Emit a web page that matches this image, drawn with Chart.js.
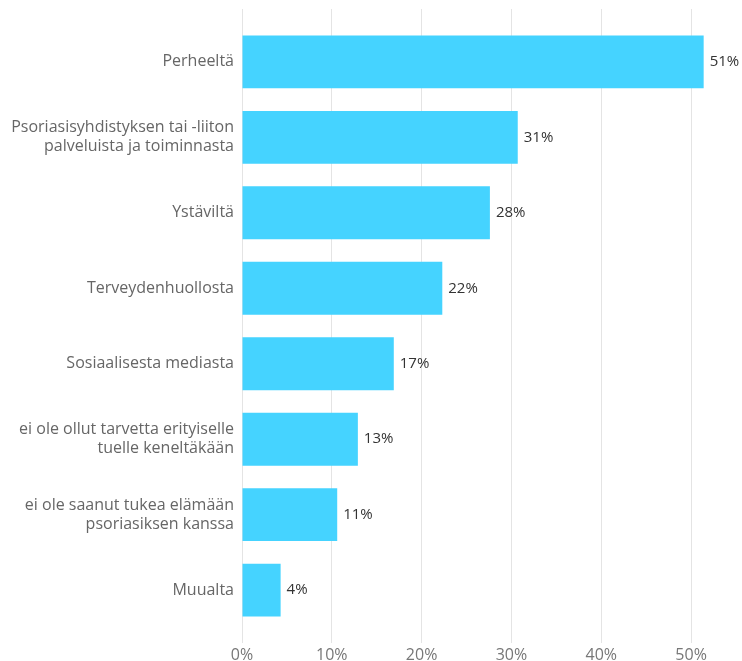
<!DOCTYPE html>
<html>
<head>
<meta charset="utf-8">
<script src="https://cdn.jsdelivr.net/npm/chart.js@4/dist/chart.umd.min.js"></script>
<style>
	html, body { margin: 0; padding: 0; background: #fff; }
	#wrap { width: 742px; height: 661px; position: relative; }
</style>
</head>
<body>
<div id="wrap"><canvas id="supportChart"></canvas></div>
<script>
// Mistä on saanut tukea (osuus vastaajista, %)
var categories = [
	'Perheeltä',
	['Psoriasisyhdistyksen tai -liiton', 'palveluista ja toiminnasta'],
	'Ystäviltä',
	'Terveydenhuollosta',
	'Sosiaalisesta mediasta',
	['ei ole ollut tarvetta erityiselle', 'tuelle keneltäkään'],
	['ei ole saanut tukea elämään', 'psoriasiksen kanssa'],
	'Muualta'
];
var shares = [51.4, 30.7, 27.6, 22.3, 16.9, 12.9, 10.6, 4.3];
var xTicks = [0, 10, 20, 30, 40, 50];

var FONT = '"Open Sans", "DejaVu Sans", sans-serif';

// percent label to the right of each bar
var valueLabels = {
	id: 'valueLabels',
	afterDatasetsDraw: function (chart) {
		var ctx = chart.ctx;
		var meta = chart.getDatasetMeta(0);
		ctx.save();
		ctx.font = '15px ' + FONT;
		ctx.fillStyle = '#333';
		ctx.textAlign = 'left';
		ctx.textBaseline = 'middle';
		meta.data.forEach(function (bar, i) {
			ctx.fillText(Math.round(shares[i]) + '%', bar.x + 6, bar.y);
		});
		ctx.restore();
	}
};

var points = shares.map(function (v, i) { return { x: v, y: i }; });

new Chart(document.getElementById('supportChart'), {
	type: 'bar',
	data: {
		datasets: [{
			data: points,
			backgroundColor: '#45d3ff',
			borderWidth: 0,
			barPercentage: 0.7,
			categoryPercentage: 1
		}]
	},
	options: {
		indexAxis: 'y',
		responsive: true,
		maintainAspectRatio: false,
		animation: false,
		layout: { padding: { top: 9, right: 6, left: 0, bottom: 0 } },
		plugins: {
			legend: { display: false },
			tooltip: { enabled: false }
		},
		scales: {
			x: {
				type: 'linear',
				min: 0,
				max: 55,
				border: { display: false },
				grid: { color: '#e4e4e4', lineWidth: 1, drawTicks: false, tickLength: 0 },
				afterBuildTicks: function (scale) {
					scale.ticks = xTicks.map(function (v) { return { value: v }; });
				},
				// labels hang slightly past the bottom edge
				afterFit: function (scale) {
					scale.height = 18;
				},
				ticks: {
					padding: 3,
					color: '#777',
					font: { family: FONT, size: 16 },
					callback: function (v) { return v + '%'; }
				}
			},
			y: {
				type: 'linear',
				min: -0.7,
				max: 7.7,
				offset: false,
				reverse: true,
				border: { display: false },
				grid: { display: false, drawTicks: false, tickLength: 0 },
				afterBuildTicks: function (scale) {
					scale.ticks = categories.map(function (c, i) { return { value: i }; });
				},
				afterFit: function (scale) {
					scale.width = 242;
					scale.paddingTop = 0;
					scale.paddingBottom = 0;
				},
				ticks: {
					autoSkip: false,
					padding: 8,
					color: '#666',
					font: { family: FONT, size: 16, lineHeight: 1.2 },
					callback: function (v) { return categories[v]; }
				}
			}
		}
	},
	plugins: [valueLabels]
});
</script>
</body>
</html>
